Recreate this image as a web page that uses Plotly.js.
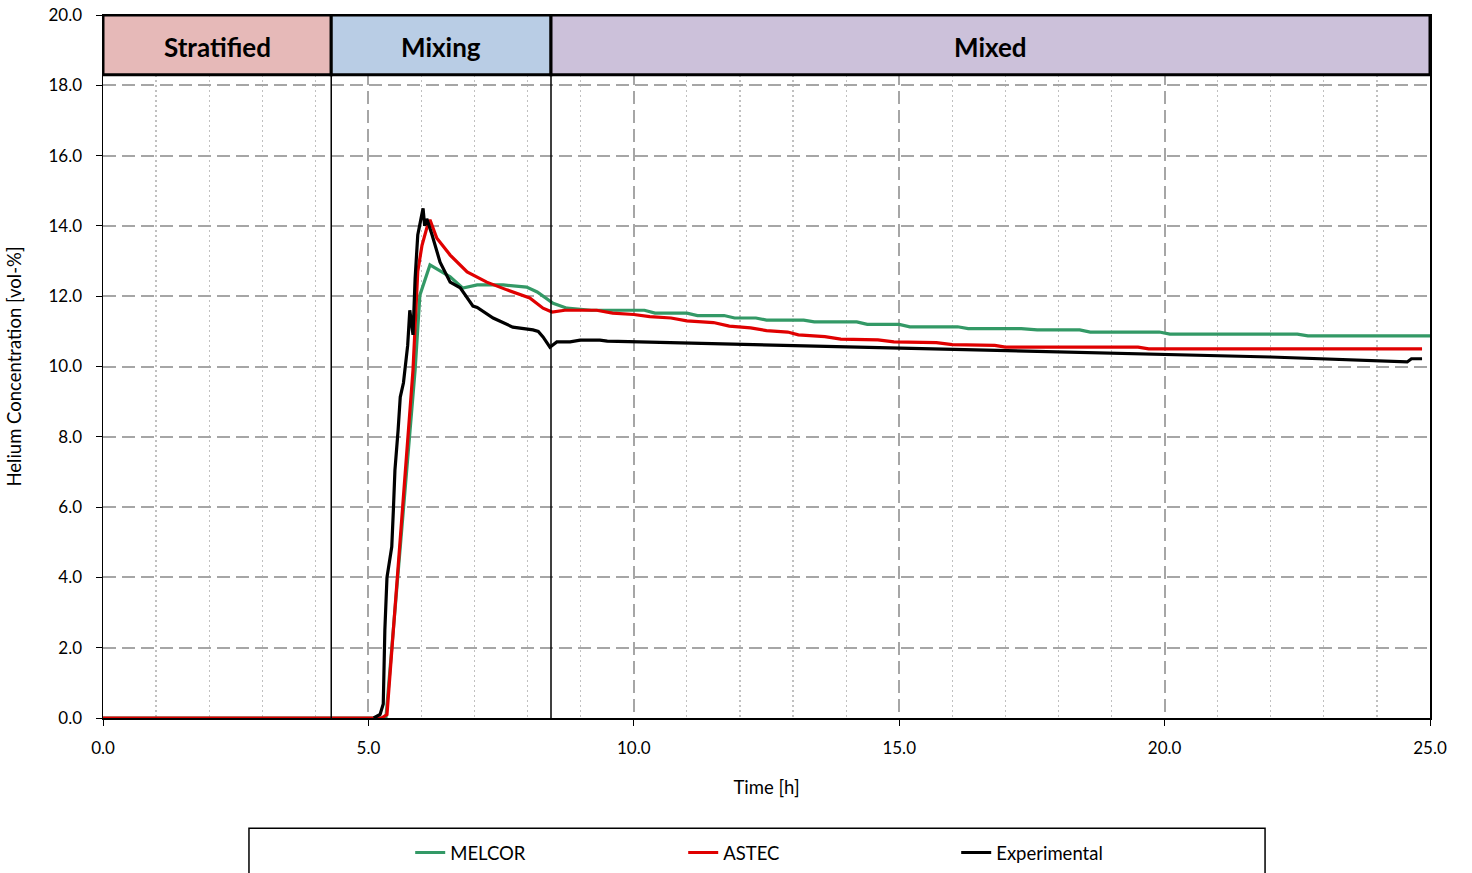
<!DOCTYPE html>
<html>
<head>
<meta charset="utf-8">
<script src="https://cdn.plot.ly/plotly-3.0.1.min.js"></script>
<style>html,body{margin:0;padding:0;background:#fff;}#chart{width:1472px;height:873px;}</style>
</head>
<body>
<div id="chart"></div>
<script>
// Phase boundaries [h]
const phaseNames = ["Stratified", "Mixing", "Mixed"];
const phaseStart = [0, 4.3, 8.44];
const phaseEnd = [4.3, 8.44, 25];
const phaseColors = ["#E6B9B8", "#B9CDE5", "#CCC1DA"];

// MELCOR
const melcorT = [0, 5.33, 5.88, 5.97, 6.16, 6.54, 6.78, 7.05, 7.54, 7.98, 8.18, 8.48, 8.74, 9.2, 10.2, 10.4, 11.0, 11.2, 11.7, 11.9, 12.3, 12.5, 13.2, 13.4, 14.2, 14.4, 15.0, 15.2, 16.1, 16.3, 17.3, 17.6, 18.4, 18.6, 19.9, 20.1, 22.5, 22.7, 25.0];
const melcorV = [0, 0, 9.9, 12.03, 12.89, 12.55, 12.23, 12.32, 12.32, 12.26, 12.12, 11.8, 11.66, 11.6, 11.6, 11.52, 11.52, 11.45, 11.45, 11.38, 11.38, 11.32, 11.32, 11.27, 11.27, 11.2, 11.2, 11.13, 11.13, 11.08, 11.08, 11.04, 11.04, 10.98, 10.98, 10.92, 10.92, 10.87, 10.87];

// ASTEC
const astecT = [0, 5.25, 5.35, 5.84, 5.93, 6.01, 6.1, 6.16, 6.29, 6.54, 6.86, 7.23, 7.61, 8.04, 8.29, 8.46, 8.7, 9.3, 9.6, 10.0, 10.3, 10.7, 11.0, 11.5, 11.8, 12.2, 12.5, 12.9, 13.1, 13.6, 13.9, 14.6, 14.9, 15.7, 16.0, 16.8, 17.0, 19.5, 19.7, 24.85];
const astecV = [0, 0, 0.1, 9.9, 12.7, 13.45, 13.94, 14.17, 13.65, 13.17, 12.69, 12.4, 12.18, 11.95, 11.66, 11.55, 11.6, 11.6, 11.52, 11.48, 11.42, 11.38, 11.3, 11.25, 11.15, 11.1, 11.02, 10.98, 10.9, 10.85, 10.78, 10.76, 10.7, 10.68, 10.62, 10.6, 10.55, 10.55, 10.5, 10.5];

// Experimental
const expT = [5.1, 5.22, 5.28, 5.31, 5.35, 5.44, 5.47, 5.5, 5.56, 5.6, 5.66, 5.69, 5.74, 5.78, 5.84, 5.88, 5.93, 5.99, 6.03, 6.06, 6.1, 6.2, 6.35, 6.54, 6.73, 6.97, 7.05, 7.35, 7.72, 8.1, 8.2, 8.29, 8.42, 8.48, 8.55, 8.8, 8.99, 9.36, 9.5, 10.1, 12.0, 15.0, 17.0, 20.0, 22.0, 24.57, 24.65, 24.85];
const expV = [0, 0.1, 0.4, 2.5, 4.0, 4.87, 5.9, 7.05, 8.2, 9.13, 9.53, 9.9, 10.6, 11.6, 10.9, 12.5, 13.74, 14.2, 14.5, 14.0, 14.2, 13.74, 12.97, 12.4, 12.24, 11.72, 11.68, 11.38, 11.12, 11.04, 11.0, 10.84, 10.55, 10.62, 10.7, 10.7, 10.75, 10.75, 10.72, 10.7, 10.63, 10.53, 10.46, 10.35, 10.27, 10.13, 10.22, 10.22];

const fontFam = "Lato, 'Open Sans', sans-serif";

const traces = [
  {x: melcorT, y: melcorV, name: "MELCOR", mode: "lines", line: {color: "#339966", width: 3.2}},
  {x: astecT, y: astecV, name: "ASTEC", mode: "lines", line: {color: "#E00000", width: 3.2}},
  {x: expT, y: expV, name: "Experimental", mode: "lines", line: {color: "#000000", width: 3.2}}
];

const shapes = [];
const annotations = [];
for (let i = 0; i < phaseNames.length; i++) {
  shapes.push({type: "rect", xref: "x", yref: "y", x0: phaseStart[i], x1: phaseEnd[i], y0: 18.3, y1: 20,
    fillcolor: phaseColors[i], line: {color: "#000", width: 3}, layer: "above"});
  annotations.push({xref: "x", yref: "y", x: (phaseStart[i] + phaseEnd[i]) / 2, y: 19.1, text: "<b>" + phaseNames[i] + "</b>",
    showarrow: false, font: {family: fontFam, size: 26, color: "#000"}});
}
[phaseEnd[0], phaseEnd[1]].forEach(b => {
  shapes.push({type: "line", xref: "x", yref: "y", x0: b, x1: b, y0: 0, y1: 18.3, line: {color: "#000", width: 1.5}, layer: "above"});
});
// legend frame
shapes.push({type: "rect", xref: "paper", yref: "paper", x0: 0.11, x1: 0.8757, y0: -0.157, y1: -0.3,
  line: {color: "#000", width: 1.5}, fillcolor: "rgba(0,0,0,0)", layer: "above"});

const layout = {
  width: 1472, height: 873,
  margin: {l: 103, r: 42, t: 15, b: 155, autoexpand: false},
  paper_bgcolor: "#fff", plot_bgcolor: "#fff",
  font: {family: fontFam, size: 17, color: "#000"},
  showlegend: true,
  legend: {orientation: "h", x: 0.2315, xanchor: "left", y: -0.165, yanchor: "top",
    entrywidth: 228, entrywidthmode: "pixels", font: {family: fontFam, size: 18.5, color: "#000"},
    bgcolor: "rgba(0,0,0,0)", borderwidth: 0},
  xaxis: {range: [0, 25], dtick: 5, tick0: 0, tickformat: ".1f", ticks: "outside", ticklen: 6, tickcolor: "#000",
    ticklabelstandoff: 8, automargin: false,
    showline: true, linecolor: "#000", linewidth: 1.5, mirror: true, zeroline: false,
    showgrid: true, gridcolor: "#A6A6A6", gridwidth: 2, griddash: "13px,6px",
    minor: {dtick: 1, showgrid: true, gridcolor: "#C0C0C0", gridwidth: 1.2, griddash: "2px,3px", ticks: ""},
    title: {text: "Time [h]", font: {family: fontFam, size: 18.5, color: "#000"}, standoff: 24}},
  yaxis: {range: [0, 20], dtick: 2, tick0: 0, tickformat: ".1f", ticks: "outside", ticklen: 6, tickcolor: "#000",
    ticklabelstandoff: 10, automargin: false,
    showline: true, linecolor: "#000", linewidth: 1.5, mirror: true, zeroline: false,
    showgrid: true, gridcolor: "#A6A6A6", gridwidth: 2, griddash: "13px,6px",
    title: {text: "Helium Concentration [vol-%]", font: {family: fontFam, size: 18.5, color: "#000"}, standoff: 22}},
  shapes: shapes,
  annotations: annotations
};

Plotly.newPlot("chart", traces, layout, {displayModeBar: false, staticPlot: true});
</script>
</body>
</html>
